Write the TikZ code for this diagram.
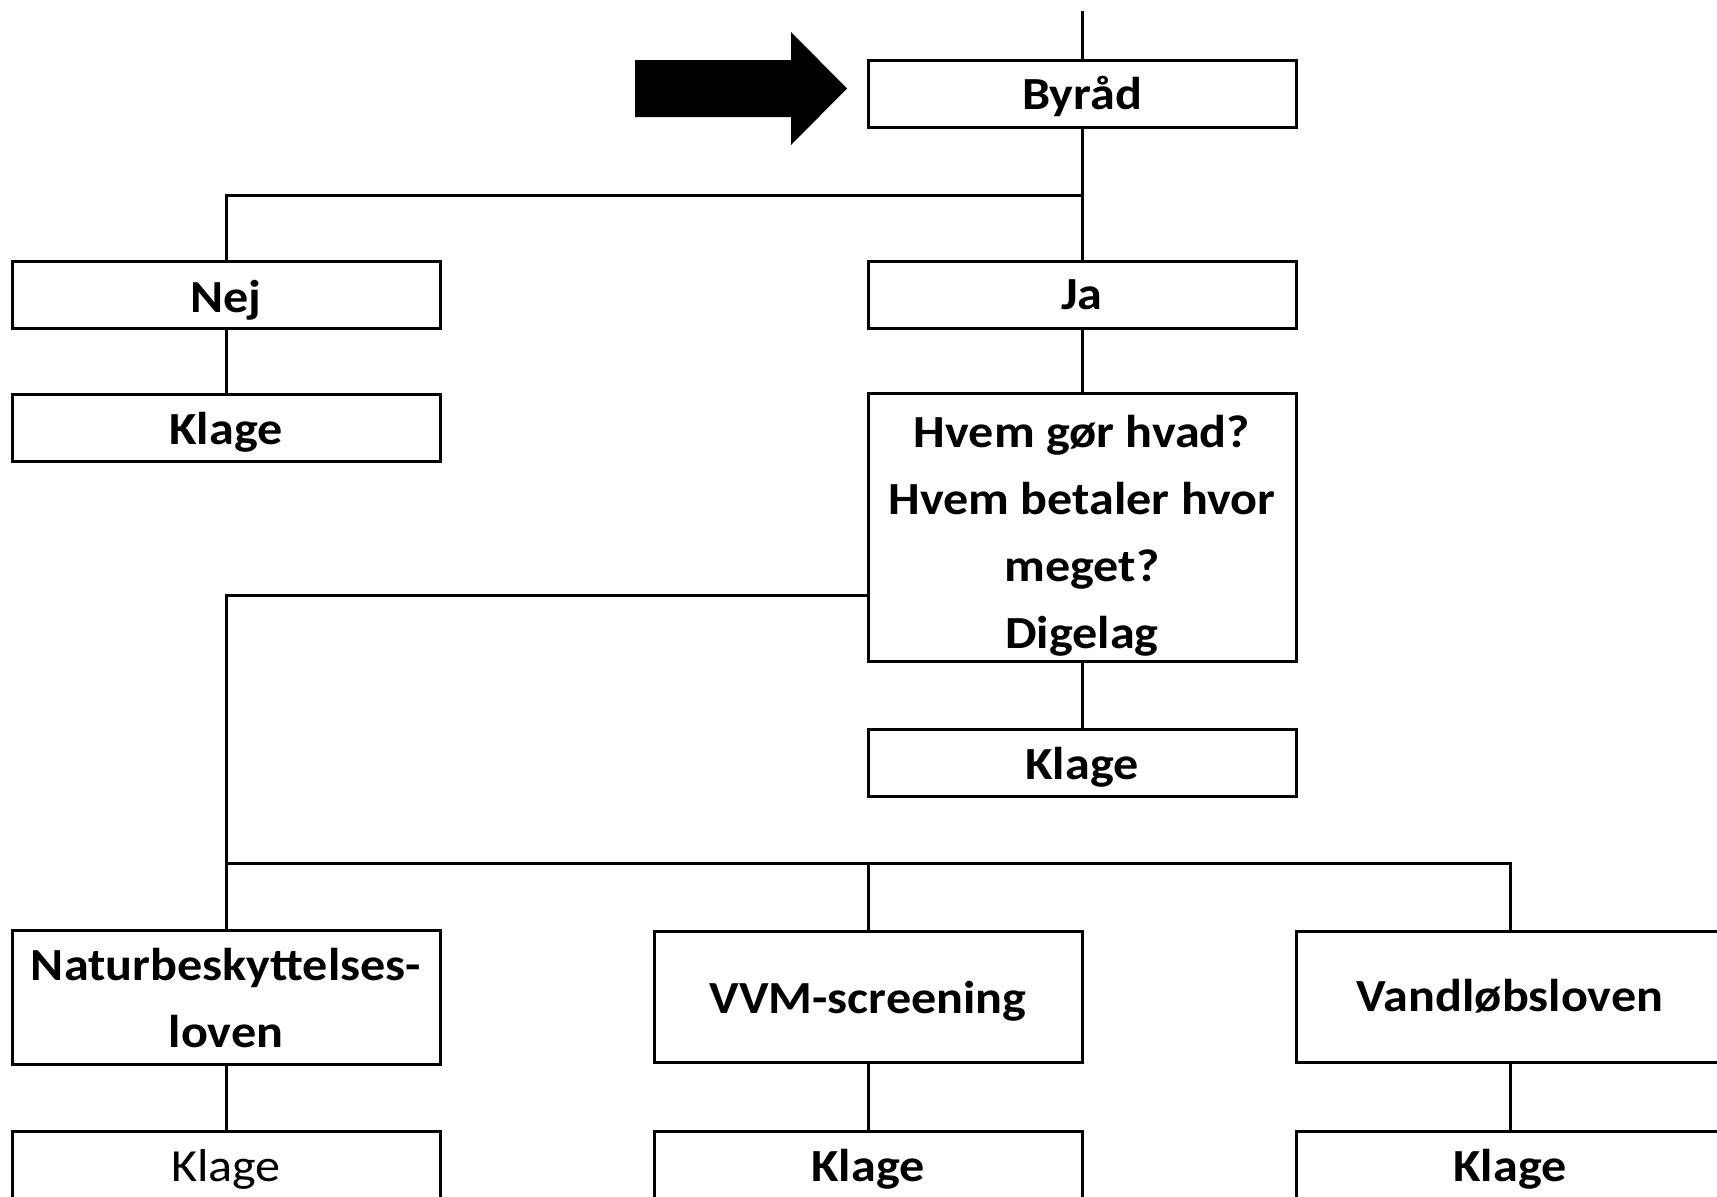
\documentclass[tikz,border=0pt]{standalone}
\usepackage{fontspec}
\setmainfont{Carlito}[FakeStretch=1.09]
\newcommand{\lowtxt}[2]{\raisebox{-#1pt}[\height][\depth]{\begin{tabular}{@{}c@{}}#2\end{tabular}}}
\begin{document}
\begin{tikzpicture}[x=1pt,y=-1pt,line width=3pt,
  box/.style={draw=black,line width=3pt,rectangle,inner sep=0pt,
    minimum width=428pt,minimum height=67pt,align=center,
    font=\bfseries\fontsize{46}{67}\selectfont},
  conn/.style={draw=black,line width=3pt}]
\clip (0,0) rectangle (1717,1197);
\fill[white] (0,0) rectangle (1717,1197);
% arrow
\fill[black] (635,60) -- (791,60) -- (791,32) -- (847,88.5) -- (791,145) -- (791,117) -- (635,117) -- cycle;
% nodes
\node[box] (byr) at (1082,93.5) {\lowtxt{3}{Byråd}};
\node[box] (nej) at (226,294.5) {\lowtxt{4.5}{Nej}};
\node[box] (ja) at (1082,294.5) {\lowtxt{2}{Ja}};
\node[box] (klA) at (226,427.5) {\lowtxt{4}{Klage}};
\node[box,minimum height=267pt] (hvem) at (1082,527.5) {\lowtxt{7.5}{Hvem gør hvad?\\Hvem betaler hvor\\meget?\\Digelag}};
\node[box] (klB) at (1082,762.5) {\lowtxt{4}{Klage}};
\node[box,minimum height=131pt] (nat) at (226,997) {\lowtxt{3.5}{Naturbeskyttelses-\\loven}};
\node[box,minimum height=131pt] (vvm) at (868,997) {\lowtxt{3.5}{VVM-screening}};
\node[box,minimum height=131pt] (vand) at (1510,997) {\lowtxt{1}{Vandløbsloven}};
\node[box,font=\fontsize{46}{67}\selectfont] (klC) at (226,1164.5) {\lowtxt{3.5}{Klage}};
\node[box] (klD) at (868,1164.5) {\lowtxt{3.5}{Klage}};
\node[box] (klE) at (1510,1164.5) {\lowtxt{3.5}{Klage}};
% coordinates
\coordinate (top) at (1082,11);
\coordinate (j1) at (1082,195);
\coordinate (h1) at (868,595);
\coordinate (bus) at (226,863);
% connectors
\draw[conn] (top) -- (byr.north);
\draw[conn] (byr.south) -- (ja.north);
\draw[conn] (j1) -| (nej.north);
\draw[conn] (nej.south) -- (klA.north);
\draw[conn] (ja.south) -- (hvem.north);
\draw[conn] (hvem.south) -- (klB.north);
\draw[conn] (h1) -| (nat.north);
\draw[conn] (bus) -| (vvm.north);
\draw[conn] (bus) -| (vand.north);
\draw[conn] (nat.south) -- (klC.north);
\draw[conn] (vvm.south) -- (klD.north);
\draw[conn] (vand.south) -- (klE.north);
\end{tikzpicture}
\end{document}
